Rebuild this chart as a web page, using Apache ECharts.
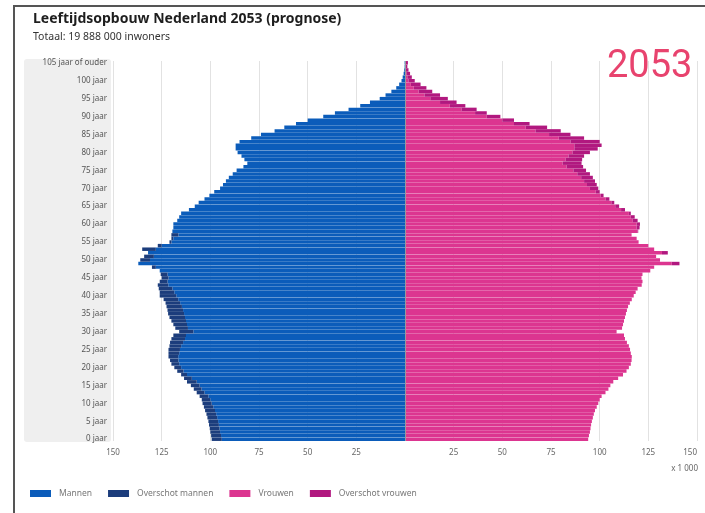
<!DOCTYPE html>
<html>
<head>
<meta charset="utf-8">
<script src="https://cdn.jsdelivr.net/npm/echarts@6/dist/echarts.min.js"></script>
<style>
  html, body { margin: 0; padding: 0; background: #fff; }
  #main { width: 705px; height: 513px; }
</style>
</head>
<body>
<div id="main"></div>
<script>
// leeftijden 0 t/m 105 (105 = 105 jaar of ouder)
var leeftijden = [
  0, 1, 2, 3, 4, 5, 6, 7, 8, 9, 10, 11, 12, 13, 14, 15, 16, 17, 18, 19,
  20, 21, 22, 23, 24, 25, 26, 27, 28, 29, 30, 31, 32, 33, 34, 35, 36, 37, 38, 39,
  40, 41, 42, 43, 44, 45, 46, 47, 48, 49, 50, 51, 52, 53, 54, 55, 56, 57, 58, 59,
  60, 61, 62, 63, 64, 65, 66, 67, 68, 69, 70, 71, 72, 73, 74, 75, 76, 77, 78, 79,
  80, 81, 82, 83, 84, 85, 86, 87, 88, 89, 90, 91, 92, 93, 94, 95, 96, 97, 98, 99,
  100, 101, 102, 103, 104, 105
];

// aantal mannen per leeftijd (x 1 000)
var mannen = [
  99.3, 99.6, 100, 100.3, 100.7, 101, 101.5, 102, 102.7, 103.3,
  104, 104.4, 105.5, 107, 108.5, 110, 112, 113.5, 115, 117,
  118.5, 120, 120.7, 121.5, 121.5, 121.5, 121, 120.7, 120, 119,
  116, 118, 119, 120, 121, 121.7, 122, 122.5, 123, 124,
  126, 126, 126.5, 127, 126, 125, 125.5, 126, 130, 137,
  136, 134, 132, 135, 127, 121, 120, 120, 119.5, 119,
  119, 117, 116, 115, 111, 108, 106, 103, 100.5, 98,
  95, 93.5, 92, 90.5, 88.5, 86.5, 83, 81, 82.5, 84,
  86, 87, 87, 85, 79, 74, 67, 62, 56, 50,
  42, 36, 29, 23, 18, 13, 10, 7, 4.5, 3,
  1.8, 1.2, 0.7, 0.4, 0.2, 0.2
];

// aantal vrouwen per leeftijd (x 1 000)
var vrouwen = [
  94.1, 94.5, 95, 95.3, 95.6, 96, 96.5, 97, 97.6, 98.5,
  99.3, 100, 101, 103, 104.5, 105.5, 107, 109.5, 112, 113.8,
  115, 116, 116.4, 116.5, 116, 115.6, 115, 114, 113, 112.5,
  108.7, 111.5, 112, 112.5, 113, 113.5, 114, 114.6, 115.5, 116.5,
  117.5, 118.5, 119.5, 121.6, 122, 121.5, 122, 126, 128, 141,
  131, 129, 135, 128, 125, 120, 119, 116.4, 119.8, 120.5,
  120.7, 119.5, 118, 116, 113, 110, 107.5, 105, 102, 100,
  99.3, 98.5, 97.6, 96.5, 95, 93, 91.5, 90.7, 91, 92,
  95, 99, 101, 100, 92, 85, 80, 73, 64, 56,
  49, 42, 36.8, 31, 26.5, 22, 18, 14, 11, 8,
  5, 3.5, 2.6, 1.8, 1.2, 1.5
];

var asTicks = [-150, -125, -100, -75, -50, -25, 0, 25, 50, 75, 100, 125, 150];

var kleuren = {
  mannen: "#0b5cba",
  overschotMannen: "#1c3d7c",
  vrouwen: "#dc3590",
  overschotVrouwen: "#b1187f"
};

// basis = gemeenschappelijk deel, overschot = verschil
var basisM = [], overM = [], basisV = [], overV = [];
for (var i = 0; i < leeftijden.length; i++) {
  var gemeen = Math.min(mannen[i], vrouwen[i]);
  basisM.push(-gemeen);
  overM.push(-Math.max(0, mannen[i] - vrouwen[i]));
  basisV.push(gemeen);
  overV.push(Math.max(0, vrouwen[i] - mannen[i]));
}

var labels = leeftijden.map(function (a) {
  return a === 105 ? "105 jaar of ouder" : a + " jaar";
});

var myChart = echarts.init(document.getElementById("main"));
var font = "'Noto Sans', sans-serif";

var option = {
  animation: false,
  textStyle: { fontFamily: font },
  title: {
    text: "Leeftijdsopbouw Nederland 2053 (prognose)",
    subtext: "Totaal: 19 888 000 inwoners",
    left: 33,
    top: 12,
    padding: 0,
    itemGap: 6,
    textStyle: { fontSize: 14, fontWeight: "bold", color: "#1e1e1e", fontFamily: font },
    subtextStyle: { fontSize: 10.5, color: "#333", fontFamily: font }
  },
  legend: {
    left: 25,
    top: 484,
    icon: "rect",
    itemWidth: 21,
    itemHeight: 7,
    itemGap: 16,
    selectedMode: false,
    textStyle: { fontSize: 8.5, color: "#777", padding: [0, 0, 0, 3] },
    data: ["Mannen", "Overschot mannen", "Vrouwen", "Overschot vrouwen"]
  },
  graphic: [
    { type: "rect", z: -10, silent: true, shape: { x: 24, y: 59, width: 87, height: 383, r: 3 }, style: { fill: "#efefef" } },
    { type: "line", silent: true, shape: { x1: 14, y1: 6, x2: 705, y2: 6 }, style: { stroke: "#555", lineWidth: 2 } },
    { type: "line", silent: true, shape: { x1: 14, y1: 5, x2: 14, y2: 513 }, style: { stroke: "#555", lineWidth: 2 } },
    { type: "text", silent: true, x: 607, y: 48, style: { text: "2053", fill: "#e8436e", font: "38px Roboto, sans-serif" } },
    { type: "text", silent: true, x: 698, y: 465, style: { text: "x 1 000", fill: "#666", align: "right", font: "8px 'Noto Sans', sans-serif" } }
  ],
  grid: { left: 113, right: 8, top: 61, bottom: 72 },
  xAxis: {
    type: "value",
    min: -150,
    max: 150,
    interval: 25,
    axisLine: { show: false },
    axisTick: { show: false },
    splitLine: { lineStyle: { color: "#e2e2e2", width: 1 } },
    axisLabel: {
      fontSize: 8,
      color: "#666",
      margin: 8,
      alignMaxLabel: "right",
      formatter: function (v) {
        return asTicks.indexOf(v) >= 0 && v !== 0 ? String(Math.abs(v)) : "";
      }
    }
  },
  yAxis: {
    type: "category",
    data: labels,
    axisLine: { show: false },
    axisTick: { show: false },
    axisLabel: { interval: 4, fontSize: 8, color: "#555", margin: 6 }
  },
  series: [
    {
      name: "Mannen", type: "bar", stack: "m", data: basisM,
      barCategoryGap: "3%", barGap: "-100%",
      itemStyle: { color: kleuren.mannen }
    },
    {
      name: "Overschot mannen", type: "bar", stack: "m", data: overM,
      itemStyle: { color: kleuren.overschotMannen }
    },
    {
      name: "Vrouwen", type: "bar", stack: "v", data: basisV,
      barCategoryGap: "3%", barGap: "-100%",
      itemStyle: { color: kleuren.vrouwen },
      markLine: {
        silent: true, symbol: "none", label: { show: false },
        lineStyle: { color: "#999", width: 1, type: "solid" },
        data: [{ xAxis: 0 }]
      }
    },
    {
      name: "Overschot vrouwen", type: "bar", stack: "v", data: overV,
      itemStyle: { color: kleuren.overschotVrouwen }
    }
  ]
};

myChart.setOption(option);
</script>
</body>
</html>
